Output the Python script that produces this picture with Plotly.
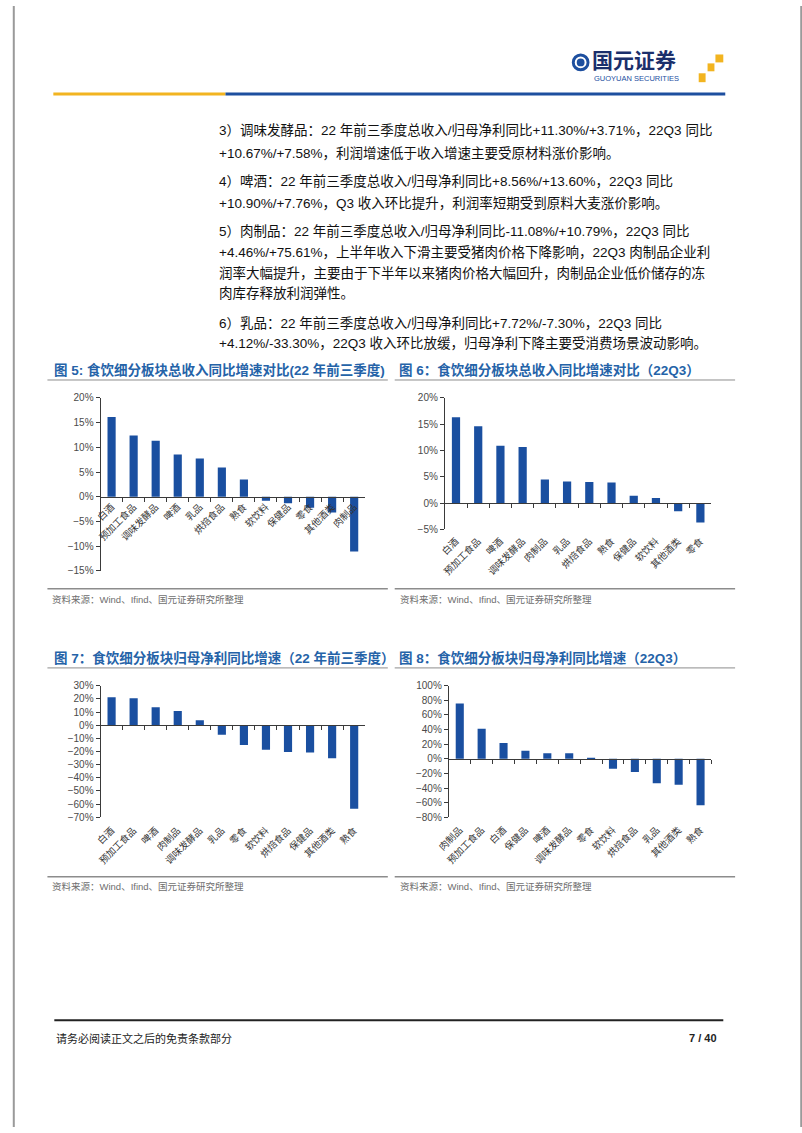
import plotly.graph_objects as go

W, H = 802, 1133

# 图5：总收入同比（22年前三季度）
cats_5 = ["白酒", "预加工食品", "调味发酵品", "啤酒", "乳品", "烘焙食品", "熟食", "软饮料", "保健品", "零食", "其他酒类", "肉制品"]
vals_5 = [16.1, 12.4, 11.3, 8.56, 7.72, 5.9, 3.5, -0.8, -1.3, -2.2, -3.2, -11.08]

# 图6：总收入同比（22Q3）
cats_6 = ["白酒", "预加工食品", "啤酒", "调味发酵品", "肉制品", "乳品", "烘焙食品", "熟食", "保健品", "软饮料", "其他酒类", "零食"]
vals_6 = [16.3, 14.6, 10.90, 10.67, 4.46, 4.12, 4.0, 3.9, 1.4, 0.95, -1.55, -3.7]

# 图7：归母净利同比（22年前三季度）
cats_7 = ["白酒", "预加工食品", "啤酒", "肉制品", "调味发酵品", "乳品", "零食", "软饮料", "烘焙食品", "保健品", "其他酒类", "熟食"]
vals_7 = [21.2, 20.4, 13.60, 10.79, 3.71, -7.30, -15.0, -18.6, -20.4, -20.7, -25.1, -63.5]

# 图8：归母净利同比（22Q3）
cats_8 = ["肉制品", "预加工食品", "白酒", "保健品", "啤酒", "调味发酵品", "零食", "软饮料", "烘焙食品", "乳品", "其他酒类", "熟食"]
vals_8 = [75.61, 41.0, 21.8, 11.2, 7.76, 7.58, 1.2, -13.5, -18.0, -33.30, -35.5, -63.5]

titles = [
    "图 5: 食饮细分板块总收入同比增速对比(22 年前三季度)",
    "图 6：食饮细分板块总收入同比增速对比（22Q3）",
    "图 7：食饮细分板块归母净利同比增速（22 年前三季度）",
    "图 8：食饮细分板块归母净利同比增速（22Q3）",
]
source_text = "资料来源：Wind、Ifind、国元证券研究所整理"

body_lines = [
    "3）调味发酵品：22 年前三季度总收入/归母净利同比+11.30%/+3.71%，22Q3 同比",
    "+10.67%/+7.58%，利润增速低于收入增速主要受原材料涨价影响。",
    "4）啤酒：22 年前三季度总收入/归母净利同比+8.56%/+13.60%，22Q3 同比",
    "+10.90%/+7.76%，Q3 收入环比提升，利润率短期受到原料大麦涨价影响。",
    "5）肉制品：22 年前三季度总收入/归母净利同比-11.08%/+10.79%，22Q3 同比",
    "+4.46%/+75.61%，上半年收入下滑主要受猪肉价格下降影响，22Q3 肉制品企业利",
    "润率大幅提升，主要由于下半年以来猪肉价格大幅回升，肉制品企业低价储存的冻",
    "肉库存释放利润弹性。",
    "6）乳品：22 年前三季度总收入/归母净利同比+7.72%/-7.30%，22Q3 同比",
    "+4.12%/-33.30%，22Q3 收入环比放缓，归母净利下降主要受消费场景波动影响。",
]
body_y = [125, 149, 177, 199, 227, 249, 270, 291, 320, 341]

BLUE = "#1A4FA0"
TITLE_BLUE = "#2563A8"
FONT = "Liberation Sans, Arial, Noto Sans CJK SC"
CJK = "Noto Sans CJK SC, Liberation Sans"


def fx(px):
    return px / W


def fy(py):
    return 1 - py / H


# (类别, 数值, 左px, 右px, 顶px, 底px, y范围, 刻度间隔, 标签在底部)
charts = [
    (cats_5, vals_5, 89, 358, 396, 571, (-15, 20), 5, False),
    (cats_6, vals_6, 439, 710, 396, 529, (-5, 20), 5, True),
    (cats_7, vals_7, 89, 358, 687, 820, (-70, 30), 10, True),
    (cats_8, vals_8, 443, 710, 687, 820, (-80, 100), 20, True),
]

fig = go.Figure()
layout = {}
for i, (cats, vals, x0, x1, yt, yb, yr, dt, low) in enumerate(charts, start=1):
    sfx = "" if i == 1 else str(i)
    fig.add_trace(go.Bar(
        x=cats, y=vals, marker_color=BLUE, marker_line_width=0,
        xaxis="x" + sfx, yaxis="y" + sfx,
    ))
    zero_px = yt + (yr[1] - 0) / (yr[1] - yr[0]) * (yb - yt)
    layout["xaxis" + sfx] = dict(
        domain=[fx(x0), fx(x1)], anchor="free", position=fy(zero_px),
        type="category", range=[-0.5, len(cats) - 0.5],
        showline=True, linecolor="#3a3a3a", linewidth=1,
        ticks="outside", tickson="boundaries", ticklen=4, tickcolor="#3a3a3a",
        showgrid=False, tickangle=-45,
        tickfont=dict(family=CJK, size=9.5, color="#333333"),
        ticklabelstandoff=int(yb - zero_px + 2) if low else 0,
        fixedrange=True,
    )
    layout["yaxis" + sfx] = dict(
        domain=[fy(yb), fy(yt)], anchor="x" + sfx, range=list(yr), dtick=dt,
        ticksuffix="%", showline=True, linecolor="#3a3a3a", linewidth=1,
        ticks="outside", ticklen=4, tickcolor="#3a3a3a",
        showgrid=False, zeroline=False,
        tickfont=dict(family=FONT, size=10, color="#4a4a4a"),
        fixedrange=True,
    )

shapes = []
annotations = []


def hline(x0, x1, y, color, width):
    shapes.append(dict(type="line", xref="paper", yref="paper",
                       x0=fx(x0), x1=fx(x1), y0=fy(y), y1=fy(y),
                       line=dict(color=color, width=width)))


def text(x, y, s, size, color="#000000", family=CJK, xanchor="left", bold=False):
    if bold:
        s = "<b>" + s + "</b>"
    annotations.append(dict(text=s, x=fx(x), y=fy(y), xref="paper", yref="paper",
                            xanchor=xanchor, yanchor="middle", showarrow=False,
                            font=dict(family=family, size=size, color=color)))


# 页面左右边框
for ex in (0.001, 0.999):
    shapes.append(dict(type="line", xref="paper", yref="paper", x0=ex, x1=ex, y0=0, y1=1,
                       line=dict(color="#9a9a9a", width=2)))

# 页眉
hline(41, 216, 89, "#F2B420", 3)
hline(216, 724, 89, "#1D4F9F", 3)
shapes.append(dict(type="circle", xref="paper", yref="paper",
                   x0=fx(568), x1=fx(586), y0=fy(66), y1=fy(48),
                   fillcolor="#1D4F9F", line=dict(width=0)))
shapes.append(dict(type="circle", xref="paper", yref="paper",
                   x0=fx(572), x1=fx(582), y0=fy(62), y1=fy(52),
                   fillcolor="rgba(0,0,0,0)", line=dict(color="white", width=2)))
for sx0, sy0, sx1, sy1 in [(714, 49, 722, 57), (706, 58, 713, 66), (697, 68, 704, 77)]:
    shapes.append(dict(type="rect", xref="paper", yref="paper",
                       x0=fx(sx0), x1=fx(sx1), y0=fy(sy1), y1=fy(sy0),
                       fillcolor="#F2B420", line=dict(width=0)))
text(587, 54, "国元证券", 21, "#1B2F6B", bold=True)
text(589, 73.5, "GUOYUAN SECURITIES", 7.5, "#1D4F9F", family=FONT)

# 正文
for s, y in zip(body_lines, body_y):
    text(207, y, s, 13.5, "#111111", family=FONT)

# 图标题、分隔线、资料来源
title_pos = [(40, 368, 35, 381, 378, 589, 600),
             (390, 368, 388, 734, 378, 589, 600),
             (40, 659, 35, 381, 669, 880, 890),
             (390, 659, 388, 734, 669, 880, 890)]
for t, (tx, ty, lx0, lx1, ly, by, sy) in zip(titles, title_pos):
    text(tx, ty, t, 13.5, TITLE_BLUE, family=FONT, bold=True)
    hline(lx0, lx1, ly, "#8c8c8c", 1)
    hline(lx0, lx1, by, "#8c8c8c", 1.5)
    text(lx0 + 3, sy, source_text, 9.5, "#6e6e6e", family=FONT)

# 页脚
hline(42, 722, 1025, "#222222", 2)
text(42, 1043, "请务必阅读正文之后的免责条款部分", 11, "#222222")
text(718, 1043, "7 / 40", 11, "#222222", family=FONT, xanchor="right", bold=True)

fig.update_layout(
    **layout,
    width=W, height=H,
    margin=dict(l=0, r=0, t=0, b=0),
    paper_bgcolor="white", plot_bgcolor="white",
    showlegend=False, bargap=0.63,
    shapes=shapes, annotations=annotations,
)

fig.write_html("out.html", config={"displayModeBar": False},
               post_script="document.body.style.margin='0';document.body.style.overflow='hidden';")
